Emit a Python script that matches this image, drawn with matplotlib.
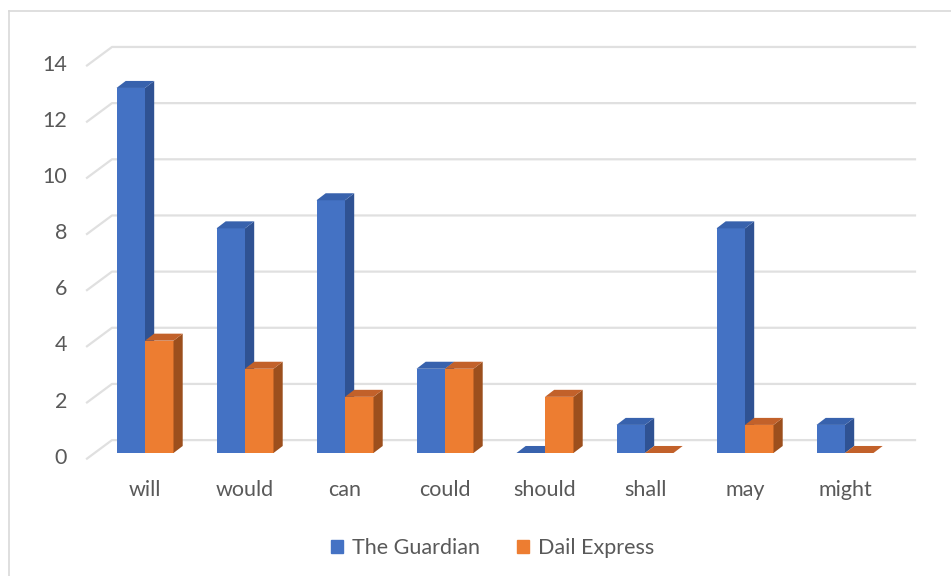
import matplotlib as mpl
mpl.use('Agg')
import matplotlib.pyplot as plt
from matplotlib.patches import Polygon, Patch
from matplotlib.lines import Line2D

plt.rcParams['font.family'] = ['Lato', 'DejaVu Sans']

categories = ['will', 'would', 'can', 'could', 'should', 'shall', 'may', 'might']
guardian = [13, 8, 9, 3, 0, 1, 8, 1]
express = [4, 3, 2, 3, 2, 0, 1, 0]
series_names = ['The Guardian', 'Dail Express']
yticks = [0, 2, 4, 6, 8, 10, 12, 14]

front = ['#4472C4', '#ED7D31']
side = ['#2F5293', '#9C4F1D']
top = ['#3862AD', '#C2612A']
txt = '#595959'
grid = '#E0E0E0'

W, H = 951, 576
fig = plt.figure(figsize=(W / 100, H / 100), dpi=100)
ax = fig.add_axes([0, 0, 1, 1])
# 1 category = 100 px, 1 unit = 28.08 px, zero at y=453 px
ppu = 28.08
ax.set_xlim(-1.45, (W - 145) / 100)
ax.set_ylim(-(H - 453) / ppu, 453 / ppu)
ax.axis('off')

# chart border (top and left visible)
fig.add_artist(Line2D([9 / W, 1], [1 - 11 / H] * 2, color='#D9D9D9', lw=1.2))
fig.add_artist(Line2D([9 / W] * 2, [0, 1 - 11 / H], color='#D9D9D9', lw=1.2))

# back wall gridlines with the little diagonal at the left
for v in yticks:
    ax.plot([-0.58, -0.33, 7.70], [v - 0.2, v + 0.46, v + 0.46], color=grid, lw=1.6, zorder=1)
    ax.text(-0.78, v - 0.17, str(v), ha='right', va='center', fontsize=15.5, color=txt)

bw = 0.285
dx, dy = 0.092, 0.25
for s, vals in enumerate([guardian, express]):
    for i, v in enumerate(vals):
        xl = i - bw + s * bw
        xr = xl + bw
        z = 3 + i * 2 + s
        ax.bar(xl, v, width=bw, align='edge', color=front[s], zorder=z, lw=0)
        ax.add_patch(Polygon([(xr, 0), (xr + dx, dy), (xr + dx, v + dy), (xr, v)],
                             closed=True, color=side[s], lw=0, zorder=z))
        ax.add_patch(Polygon([(xl, v), (xr, v), (xr + dx, v + dy), (xl + dx, v + dy)],
                             closed=True, color=top[s], lw=0, zorder=z))

for i, c in enumerate(categories):
    ax.text(i, -1.32, c, ha='center', va='center', fontsize=15.5, color=txt)

handles = [Patch(color=front[k], label=series_names[k]) for k in range(2)]
leg = fig.legend(handles=handles, loc='center', bbox_to_anchor=(0.518, 1 - 548 / H), ncol=2,
                 frameon=False, fontsize=15.5, handlelength=0.55, handleheight=0.55,
                 handletextpad=0.45, columnspacing=1.7)
for t in leg.get_texts():
    t.set_color(txt)

plt.savefig('out.png', dpi=100)
